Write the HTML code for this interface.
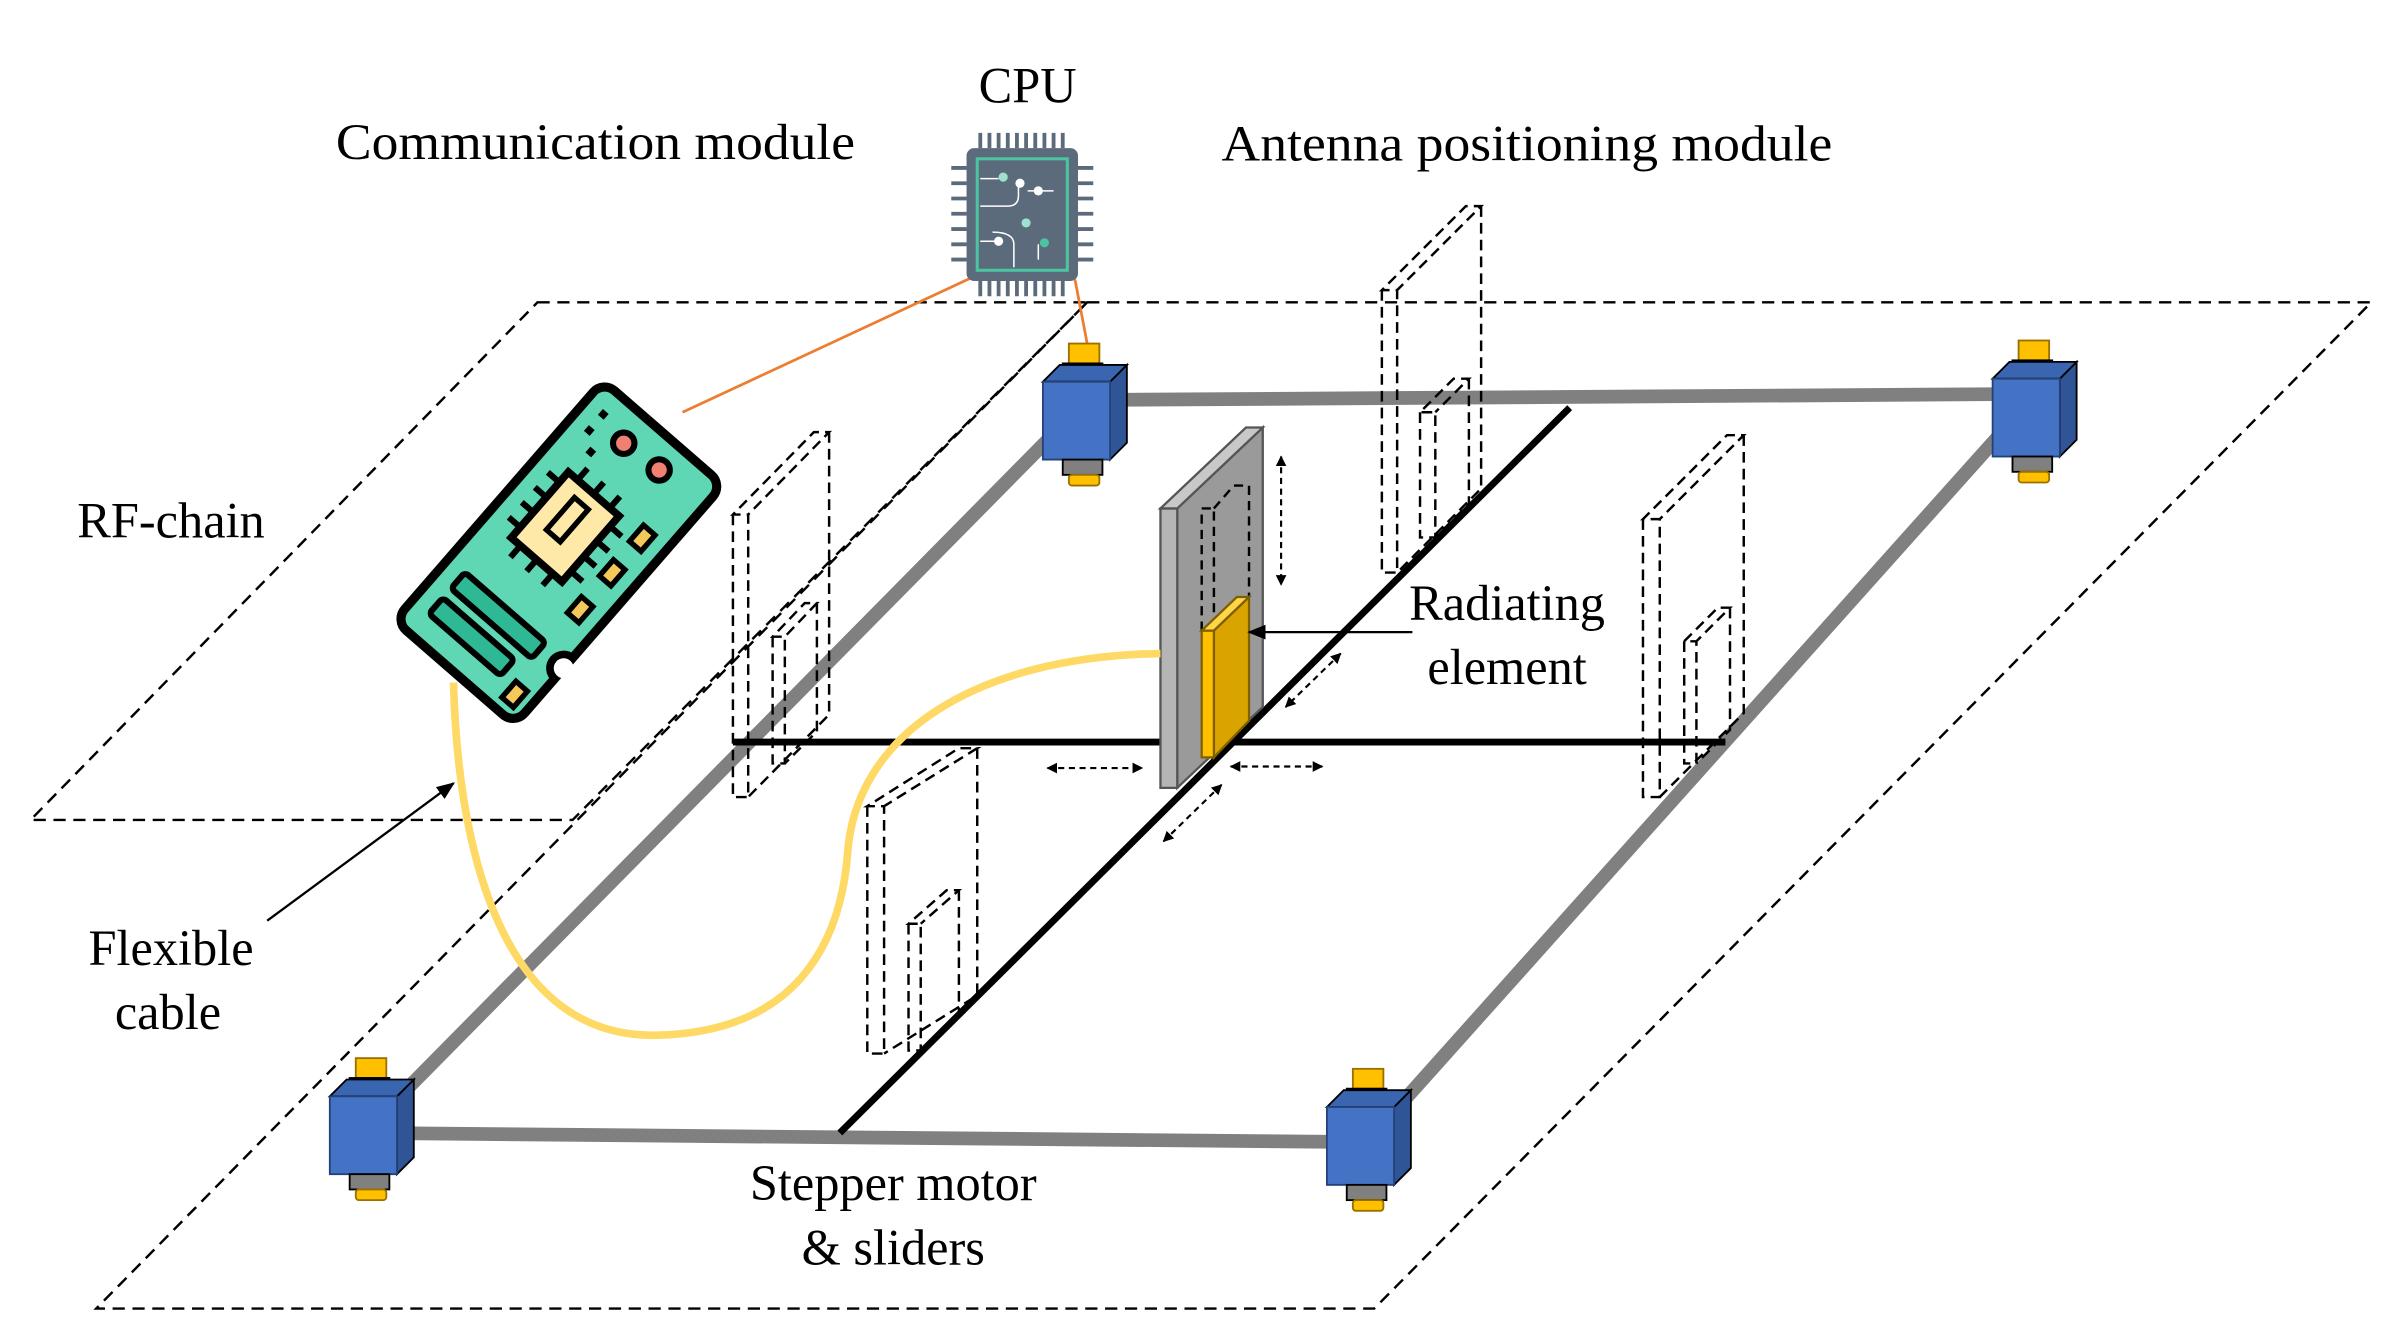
<!DOCTYPE html>
<html><head><meta charset="utf-8"><style>html,body{margin:0;padding:0;background:#fff;}svg{display:block}text{font-family:"Liberation Serif","Times New Roman","DejaVu Serif",serif;}</style></head>
<body>
<svg width="2382" height="1340" viewBox="0 0 1560 877.6" preserveAspectRatio="none" xmlns="http://www.w3.org/2000/svg">
<defs>
<marker id="ah" viewBox="0 0 10 10" refX="9" refY="5" markerWidth="5" markerHeight="5" orient="auto-start-reverse"><path d="M0,0L10,5L0,10z" fill="#000"/></marker>
<marker id="ah2" viewBox="0 0 10 10" refX="9" refY="5" markerWidth="8" markerHeight="8" orient="auto"><path d="M0,1L10,5L0,9z" fill="#000"/></marker>
</defs>
<g font-size="33" fill="#000" font-family="'Liberation Serif','Times New Roman','DejaVu Serif',serif">
<text x="673" y="67" text-anchor="middle">CPU</text>
<text x="390" y="104" text-anchor="middle" textLength="340" lengthAdjust="spacingAndGlyphs">Communication module</text>
<text x="1000" y="105" text-anchor="middle" textLength="400" lengthAdjust="spacingAndGlyphs">Antenna positioning module</text>
<text x="112" y="352" text-anchor="middle">RF-chain</text>
<text x="112" y="632" text-anchor="middle">Flexible</text>
<text x="110" y="674" text-anchor="middle">cable</text>
<text x="585" y="786" text-anchor="middle">Stepper motor</text>
<text x="585" y="828" text-anchor="middle">&amp; sliders</text>
<text x="987" y="406" text-anchor="middle">Radiating</text>
<text x="987" y="448" text-anchor="middle">element</text>
</g>
<g fill="none" stroke="#000" stroke-width="1.6" stroke-dasharray="8,5">
<polygon points="712,198 1553,198 900,857 63,857"/>
<polygon points="352,198 712,198 375,537 20,537"/>
</g>
<g stroke="#808080" stroke-width="9" fill="none">
<line x1="710" y1="262" x2="1330" y2="258"/>
<line x1="712" y1="262" x2="242" y2="738"/>
<line x1="242" y1="742" x2="895" y2="748"/>
<line x1="1330" y1="262" x2="895" y2="748"/>
</g>
<g stroke="#000" stroke-width="4.5">
<line x1="480" y1="486" x2="1130" y2="486"/>
<line x1="1028" y1="267" x2="550" y2="742"/>
</g>
<g fill="none" stroke="#000" stroke-width="1.6" stroke-dasharray="7,4">
<path d="M480,337V522H490V337H480L533,283H543L490,337M543,283V468L490,522"/>
<path d="M506,417V500H514V417H506L527,395H535L514,417M535,395V479L514,500"/>
<path d="M568,528V690H579V528H568L628,490H640L579,528M640,490V652L579,690"/>
<path d="M595,605V688H603V605H595L620,583H628L603,605M628,583V663L603,688"/>
<path d="M905,190V375H915V190H905L960,135H970L915,190M970,135V320L915,375"/>
<path d="M930,270V352H940V270H930L952,248H962L940,270M962,248V330L940,352"/>
<path d="M1076,340V522H1087V340H1076L1131,285H1142L1087,340M1142,285V467L1087,522"/>
<path d="M1103,420V500H1111V420H1103L1125,398H1133L1111,420M1133,398V478L1111,500"/>
</g>
<g stroke="#555" stroke-width="1.5">
<polygon points="771,333 827,280 827,463 771,516" fill="#9a9a9a"/>
<polygon points="760,333 771,333 771,516 760,516" fill="#b5b5b5"/>
<polygon points="760,333 816,280 827,280 771,333" fill="#c8c8c8"/>
</g>
<path d="M787,413V333H795V413M795,333L808,318H818V391" fill="none" stroke="#000" stroke-width="1.6" stroke-dasharray="6,4"/>
<g stroke="#7f6000" stroke-width="1.5">
<polygon points="795,413 818,391 818,472 795,496" fill="#D9A400"/>
<polygon points="787,413 795,413 795,496 787,496" fill="#FFC000"/>
<polygon points="787,413 810,391 818,391 795,413" fill="#FFD54A"/>
</g>
<path d="M297,447 C300,560 330,680 430,678 C520,676 550,620 555,560 C560,480 640,430 760,428" fill="none" stroke="#FFD966" stroke-width="5"/>
<g stroke="#000" stroke-width="1.4" stroke-dasharray="4,3" fill="none">
<line x1="839" y1="299" x2="839" y2="383" marker-start="url(#ah)" marker-end="url(#ah)"/>
<line x1="878" y1="428" x2="842" y2="463" marker-start="url(#ah)" marker-end="url(#ah)"/>
<line x1="806" y1="502" x2="866" y2="502" marker-start="url(#ah)" marker-end="url(#ah)"/>
<line x1="800" y1="514" x2="762" y2="551" marker-start="url(#ah)" marker-end="url(#ah)"/>
<line x1="686" y1="503" x2="748" y2="503" marker-start="url(#ah)" marker-end="url(#ah)"/>
</g>
<line x1="925" y1="414" x2="818" y2="414" stroke="#000" stroke-width="1.5" marker-end="url(#ah2)"/>
<line x1="175" y1="603" x2="297" y2="513" stroke="#000" stroke-width="1.5" marker-end="url(#ah2)"/>
<g stroke="#ED7D31" stroke-width="1.8">
<line x1="636" y1="182" x2="447" y2="270"/>
<line x1="704" y1="183" x2="712" y2="225"/>
</g>
<g>
<g stroke="#5B6B7B" stroke-width="2.5">
<path d="M642,87V97M648,87V97M654,87V97M660,87V97M666,87V97M672,87V97M678,87V97M684,87V97M690,87V97M696,87V97"/>
<path d="M642,184V194M648,184V194M654,184V194M660,184V194M666,184V194M672,184V194M678,184V194M684,184V194M690,184V194M696,184V194"/>
<path d="M623,110H633M623,120H633M623,130H633M623,140H633M623,150H633M623,160H633M623,170H633"/>
<path d="M706,110H716M706,120H716M706,130H716M706,140H716M706,150H716M706,160H716M706,170H716"/>
</g>
<rect x="633" y="97" width="73" height="87" rx="5" fill="#5B6B7B"/>
<rect x="640" y="104" width="59" height="73" fill="none" stroke="#4DC4A0" stroke-width="2"/>
<g stroke="#fff" stroke-width="1" fill="none"><path d="M642,117H654M667,120V128Q667,135 660,135H642M642,158H652M650,152Q664,152 664,160V175M673,125H690M680,170V160"/></g>
<circle cx="657" cy="116" r="3" fill="#9FE0CF"/><circle cx="668" cy="120" r="3" fill="#fff"/><circle cx="680" cy="125" r="3" fill="#fff"/><circle cx="672" cy="146" r="3" fill="#9FE0CF"/><circle cx="654" cy="158" r="3" fill="#fff"/><circle cx="684" cy="159" r="3" fill="#4DC4A0"/>
</g>
<g transform="translate(366,362) rotate(41)">
<rect x="-52" y="-104" width="104" height="208" rx="10" fill="#5FD6B4" stroke="#000" stroke-width="6"/>
<circle cx="52" cy="55" r="9" fill="#fff" stroke="#000" stroke-width="5"/>
<rect x="55" y="44" width="12" height="22" fill="#fff"/>
<g stroke="#000" stroke-width="4"><path d="M-30,-35H-40M-30,-22H-40M-30,-9H-40M-30,4H-40M14,-35H24M14,-22H24M14,-9H24M14,4H24M-22,-44V-54M-8,-44V-54M6,-44V-54M-22,13V23M-8,13V23M6,23V13"/></g>
<rect x="-30" y="-44" width="44" height="57" fill="#FFE9A8" stroke="#000" stroke-width="5"/>
<rect x="-16" y="-34" width="12" height="28" fill="none" stroke="#000" stroke-width="3.5"/>
<rect x="-38" y="50" width="70" height="14" rx="3" fill="#2FB894" stroke="#000" stroke-width="4"/>
<rect x="-38" y="72" width="62" height="14" rx="3" fill="#2FB894" stroke="#000" stroke-width="4"/>
<circle cx="-15" cy="-82" r="7" fill="#F08070" stroke="#000" stroke-width="4"/>
<circle cx="14" cy="-84" r="7" fill="#F08070" stroke="#000" stroke-width="4"/>
<rect x="30" y="-50" width="10" height="14" fill="#F5C85A" stroke="#000" stroke-width="3.5"/>
<rect x="30" y="-20" width="10" height="14" fill="#F5C85A" stroke="#000" stroke-width="3.5"/>
<rect x="30" y="12" width="10" height="14" fill="#F5C85A" stroke="#000" stroke-width="3.5"/>
<rect x="34" y="82" width="10" height="14" fill="#F5C85A" stroke="#000" stroke-width="3.5"/>
<rect x="-40" y="-90" width="5" height="5" fill="#000"/><rect x="-40" y="-76" width="5" height="5" fill="#000"/><rect x="-30" y="-66" width="5" height="5" fill="#000"/>
</g>
<g id="m1" transform="translate(683,250)" stroke="#000" stroke-width="1.2">
<rect x="17" y="-25" width="20" height="13" fill="#FFC000" stroke="#9a7000"/>
<rect x="13" y="-12" width="26" height="12" fill="#808080"/>
<polygon points="44,0 55,-11 55,40 44,51" fill="#2F5597"/>
<polygon points="0,0 11,-11 55,-11 44,0" fill="#3A65B0"/>
<rect x="0" y="0" width="44" height="51" fill="#4472C4" stroke="#24427a"/>
<rect x="13" y="51" width="26" height="10" fill="#808080"/>
<rect x="17" y="61" width="20" height="7" rx="2" fill="#FFC000" stroke="#9a7000"/>
</g>
<use href="#m1" transform="translate(622,-2)"/>
<use href="#m1" transform="translate(-467,468)"/>
<use href="#m1" transform="translate(186,475)"/>
</svg>
</body></html>
